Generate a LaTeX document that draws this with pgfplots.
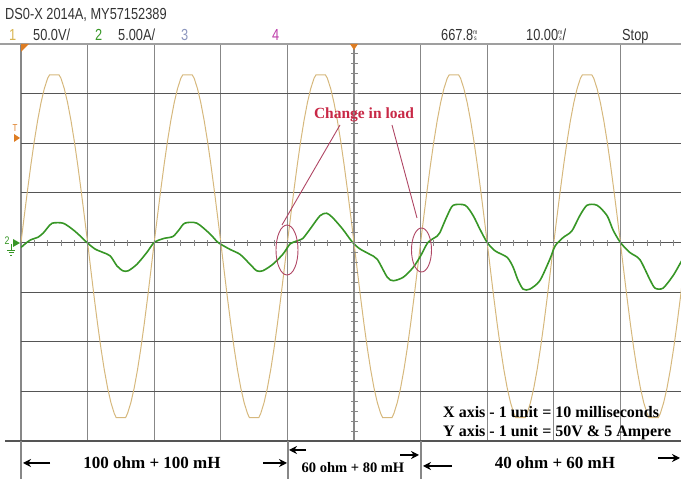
\documentclass[border=0pt]{standalone}
\usepackage{pgfplots}
\pgfplotsset{compat=1.18}
\usepackage{pgfplotstable}
\usepackage{fontspec}
\setmainfont{Liberation Serif}
\newfontfamily\scopefont[FakeStretch=0.8]{Liberation Sans}
\usetikzlibrary{arrows.meta}
\definecolor{volt}{RGB}{214,184,125}
\definecolor{curr}{RGB}{55,150,38}
\definecolor{annot}{RGB}{200,40,70}
\definecolor{ell}{RGB}{175,70,100}
\definecolor{chone}{RGB}{215,180,80}
\definecolor{chthree}{RGB}{140,150,190}
\definecolor{chfour}{RGB}{190,60,170}
\definecolor{mkcol}{RGB}{222,125,35}
\definecolor{hgrid}{RGB}{85,85,85}
\definecolor{vgrid}{RGB}{135,135,135}

\pgfplotstableread{
t v
0 0
0.05 0.544
0.1 1.075
0.15 1.58
0.2 2.046
0.25 2.461
0.3 2.815
0.35 3.101
0.4 3.31
0.43 3.38
0.57 3.38
0.6 3.31
0.65 3.101
0.7 2.815
0.75 2.461
0.8 2.046
0.85 1.58
0.9 1.075
0.95 0.544
1 0
1.05 -0.566
1.1 -1.119
1.15 -1.643
1.2 -2.128
1.25 -2.56
1.3 -2.929
1.35 -3.225
1.4 -3.443
1.43 -3.53
1.57 -3.53
1.6 -3.443
1.65 -3.225
1.7 -2.929
1.75 -2.56
1.8 -2.128
1.85 -1.643
1.9 -1.119
1.95 -0.566
2 0
2.05 0.544
2.1 1.075
2.15 1.58
2.2 2.046
2.25 2.461
2.3 2.815
2.35 3.101
2.4 3.31
2.43 3.38
2.57 3.38
2.6 3.31
2.65 3.101
2.7 2.815
2.75 2.461
2.8 2.046
2.85 1.58
2.9 1.075
2.95 0.544
3 0
3.05 -0.566
3.1 -1.119
3.15 -1.643
3.2 -2.128
3.25 -2.56
3.3 -2.929
3.35 -3.225
3.4 -3.443
3.43 -3.53
3.57 -3.53
3.6 -3.443
3.65 -3.225
3.7 -2.929
3.75 -2.56
3.8 -2.128
3.85 -1.643
3.9 -1.119
3.95 -0.566
4 0
4.05 0.544
4.1 1.075
4.15 1.58
4.2 2.046
4.25 2.461
4.3 2.815
4.35 3.101
4.4 3.31
4.43 3.38
4.57 3.38
4.6 3.31
4.65 3.101
4.7 2.815
4.75 2.461
4.8 2.046
4.85 1.58
4.9 1.075
4.95 0.544
5 0
5.05 -0.566
5.1 -1.119
5.15 -1.643
5.2 -2.128
5.25 -2.56
5.3 -2.929
5.35 -3.225
5.4 -3.443
5.43 -3.53
5.57 -3.53
5.6 -3.443
5.65 -3.225
5.7 -2.929
5.75 -2.56
5.8 -2.128
5.85 -1.643
5.9 -1.119
5.95 -0.566
6 0
6.05 0.544
6.1 1.075
6.15 1.58
6.2 2.046
6.25 2.461
6.3 2.815
6.35 3.101
6.4 3.31
6.43 3.38
6.57 3.38
6.6 3.31
6.65 3.101
6.7 2.815
6.75 2.461
6.8 2.046
6.85 1.58
6.9 1.075
6.95 0.544
7 0
7.05 -0.566
7.1 -1.119
7.15 -1.643
7.2 -2.128
7.25 -2.56
7.3 -2.929
7.35 -3.225
7.4 -3.443
7.43 -3.53
7.57 -3.53
7.6 -3.443
7.65 -3.225
7.7 -2.929
7.75 -2.56
7.8 -2.128
7.85 -1.643
7.9 -1.119
7.95 -0.566
8 0
8.05 0.544
8.1 1.075
8.15 1.58
8.2 2.046
8.25 2.461
8.3 2.815
8.35 3.101
8.4 3.31
8.43 3.38
8.57 3.38
8.6 3.31
8.65 3.101
8.7 2.815
8.75 2.461
8.8 2.046
8.85 1.58
8.9 1.075
8.95 0.544
9 0
9.05 -0.566
9.1 -1.119
9.15 -1.643
9.2 -2.128
9.25 -2.56
9.3 -2.929
9.35 -3.225
9.4 -3.443
9.43 -3.53
9.57 -3.53
9.6 -3.443
9.65 -3.225
9.7 -2.929
9.75 -2.56
9.8 -2.128
9.85 -1.643
9.9 -1.119
9.95 -0.566
10 0
}\voltage

\pgfplotstableread{
t i
0 -0.10
0.06 -0.03
0.14 0.05
0.26 0.11
0.34 0.20
0.40 0.30
0.47 0.39
0.63 0.39
0.77 0.27
0.89 0.13
0.99 0.00
1.11 -0.13
1.23 -0.20
1.34 -0.27
1.44 -0.47
1.53 -0.57
1.61 -0.57
1.74 -0.44
1.89 -0.20
2.00 0.00
2.14 0.08
2.28 0.12
2.37 0.25
2.46 0.39
2.64 0.39
2.84 0.17
2.96 0.00
3.14 -0.14
3.29 -0.24
3.44 -0.44
3.54 -0.57
3.63 -0.57
3.78 -0.44
3.93 -0.24
4.04 -0.03
4.14 0.03
4.23 0.08
4.34 0.27
4.49 0.54
4.59 0.59
4.68 0.50
4.83 0.27
4.98 0.00
5.09 -0.13
5.24 -0.24
5.35 -0.34
5.50 -0.70
5.59 -0.77
5.74 -0.70
5.89 -0.50
6.00 -0.27
6.11 0.00
6.25 0.13
6.29 0.20
6.40 0.54
6.49 0.75
6.67 0.75
6.79 0.54
6.89 0.27
7.00 0.00
7.12 -0.17
7.30 -0.30
7.39 -0.50
7.46 -0.75
7.54 -0.94
7.64 -0.94
7.79 -0.77
7.94 -0.34
8.02 -0.07
8.14 0.10
8.27 0.23
8.39 0.54
8.50 0.75
8.65 0.75
8.80 0.54
8.89 0.25
9.00 0.00
9.14 -0.20
9.29 -0.34
9.44 -0.74
9.52 -0.92
9.64 -0.92
9.79 -0.67
9.89 -0.44
9.95 -0.30
}\current

\begin{document}
\begin{tikzpicture}
\path[use as bounding box] (0,0) rectangle (681pt,479pt);
\begin{axis}[
  at={(21pt,38pt)}, anchor=south west,
  scale only axis, width=660pt, height=397pt,
  xmin=0, xmax=9.91, ymin=-4, ymax=4,
  axis line style={draw=none},
  xtick={0,1,...,9}, ytick={-4,-3,...,4},
  xticklabels={}, yticklabels={},
  major tick length=0pt,
  grid=major,
  x grid style={vgrid, line width=1.1pt},
  y grid style={hgrid, line width=1.1pt},
]
\addplot[volt, line width=1pt] table[x=t, y=v] {\voltage};
\addplot[curr, line width=1.6pt, smooth, tension=0.45] table[x=t, y=i] {\current};
\end{axis}

\begin{scope}[x=1pt, y=-1pt, shift={(0pt,479pt)}]
% frame lines
\draw[gray!75, line width=1.5pt] (0,44) -- (681,44);
\draw[hgrid, line width=1.1pt] (5,441) -- (681,441);
\draw[vgrid, line width=1.1pt] (21,441) -- (21,479);
\draw[vgrid, line width=1.1pt] (288,441) -- (288,479);
\draw[vgrid, line width=1.1pt] (421,441) -- (421,479);
% axis ticks
\foreach \k in {1,...,49} \draw[vgrid, line width=0.9pt] ({21+\k*13.32},240) -- ({21+\k*13.32},246.5);
\foreach \k in {1,...,39} \draw[vgrid, line width=0.9pt] (351,{44+\k*9.925}) -- (357.5,{44+\k*9.925});
% markers
\fill[mkcol] (21,44) -- (29,44) -- (21,52) -- cycle;
\fill[mkcol] (350,44) -- (358,44) -- (354,50) -- cycle;
\node[text=mkcol, font=\scopefont\fontsize{10}{10}\selectfont] at (15,128) {T};
\fill[mkcol] (14,134) -- (20,138) -- (14,142) -- cycle;
\node[text=curr, font=\scopefont\fontsize{11}{11}\selectfont] at (7,241) {2};
\fill[curr] (13,239) -- (20,243) -- (13,247) -- cycle;
\draw[curr, line width=0.8pt] (11,244) -- (11,250) (7,250) -- (15,250) (8.5,252.5) -- (13.5,252.5) (10,255) -- (12,255);
% header
\node[anchor=base west, inner sep=0pt, font=\scopefont\fontsize{16}{16}\selectfont, text=black!80] at (5,20) {DS0-X 2014A, MY57152389};
\begin{scope}[every node/.style={anchor=base west, inner sep=0pt, font=\scopefont\fontsize{16}{16}\selectfont}]
\node[text=chone] at (9,41) {1};
\node[text=black!80] at (33,41) {50.0V/};
\node[text=curr] at (95,41) {2};
\node[text=black!80] at (118,41) {5.00A/};
\node[text=chthree] at (181,41) {3};
\node[text=chfour] at (272,41) {4};
\node[text=black!80] at (441,41) {667.8\raisebox{0.5pt}{\fontsize{6.5}{6.5}\selectfont\shortstack{m\\s}}};
\node[text=black!80] at (526,41) {10.00\raisebox{0.5pt}{\fontsize{6.5}{6.5}\selectfont\shortstack{m\\s}}/};
\node[text=black!80] at (622,41) {Stop};
\end{scope}
% annotation
\node[text=annot, font=\bfseries\fontsize{15.5}{15.5}\selectfont] at (364,115) {Change in load};
\draw[ell, line width=0.9pt] (340,125) -- (282,225);
\draw[ell, line width=0.9pt] (392,125) -- (417,218);
\draw[ell, line width=0.9pt] (287,250) ellipse [x radius=11pt, y radius=25pt];
\draw[ell, line width=0.9pt] (421.5,250) ellipse [x radius=10pt, y radius=22pt];
% legend box text
\node[anchor=west, inner sep=0pt, font=\bfseries\fontsize{16}{16}\selectfont] at (443,412) {X axis - 1 unit = 10 milliseconds};
\node[anchor=west, inner sep=0pt, font=\bfseries\fontsize{16}{16}\selectfont] at (443,433) {Y axis - 1 unit = 50V \& 5 Ampere};
% bottom labels
\node[font=\bfseries\fontsize{17}{17}\selectfont] at (152,463) {100 ohm + 100 mH};
\node[font=\bfseries\fontsize{14.5}{14.5}\selectfont] at (353,468) {60 ohm + 80 mH};
\node[font=\bfseries\fontsize{17}{17}\selectfont] at (555,463) {40 ohm + 60 mH};
\begin{scope}[line width=1.1pt, -{Stealth[length=8pt, width=8pt]}]
\draw (50,463) -- (23,463);
\draw (263,463) -- (287,463);
\draw (306,450) -- (289,450);
\draw (400,455) -- (419,455);
\draw (452,466) -- (423,466);
\draw (658,458) -- (680,458);
\end{scope}
\end{scope}
\end{tikzpicture}
\end{document}
